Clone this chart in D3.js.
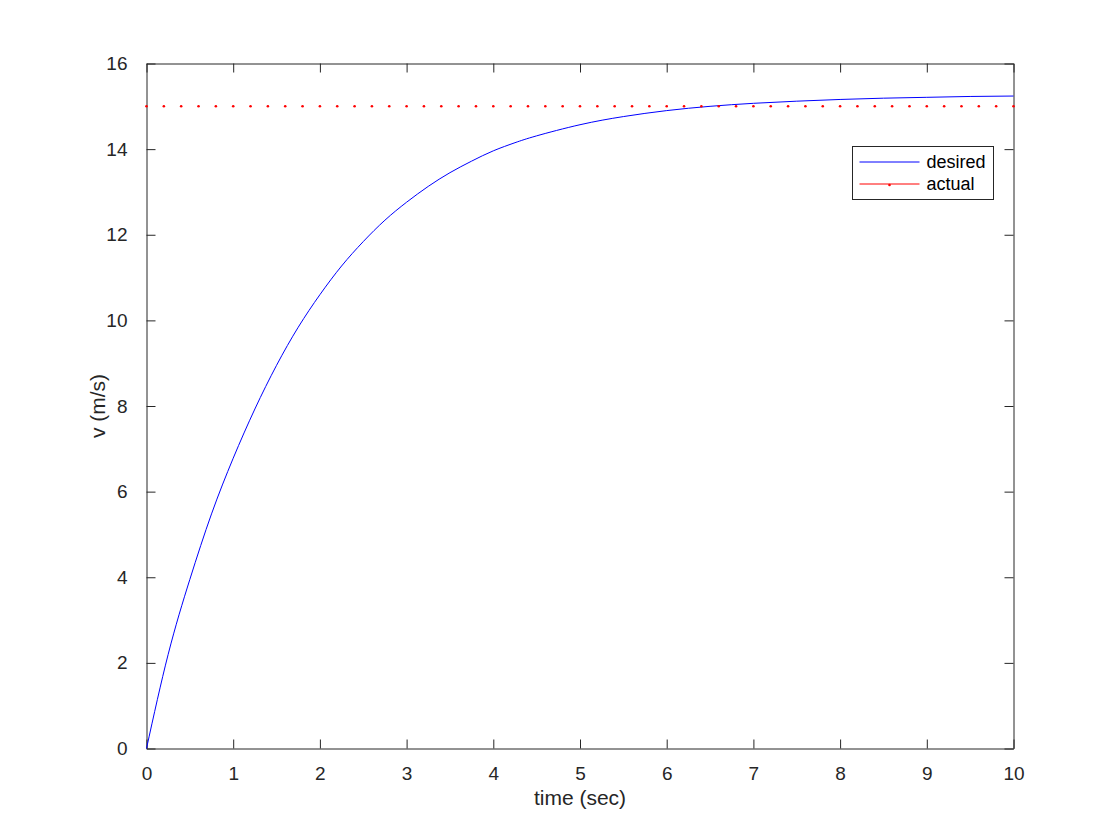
<!DOCTYPE html>
<html>
<head>
<meta charset="utf-8">
<script src="https://cdn.jsdelivr.net/npm/d3@7"></script>
<style>
  body { margin: 0; background: #fff; }
  svg { font-family: "Liberation Sans", Arial, Helvetica, sans-serif; }
</style>
</head>
<body>
<svg id="chart"></svg>
<script>
var width = 1120,
    height = 840;

// desired speed (blue curve)
var timeDesired = [0, 0.25, 0.5, 0.75, 1, 1.25, 1.5, 1.75, 2, 2.25, 2.5, 2.75, 3, 3.25, 3.5, 3.75, 4,
                   4.25, 4.5, 5, 5.5, 6, 6.5, 7, 7.5, 8, 8.5, 9, 9.5, 10];
var vDesired = [0, 2.2, 3.95, 5.48, 6.78, 7.93, 8.95, 9.84, 10.6, 11.27, 11.84, 12.34, 12.76, 13.13, 13.45, 13.72, 13.96,
                14.15, 14.31, 14.57, 14.76, 14.9, 15.0, 15.07, 15.12, 15.16, 15.19, 15.21, 15.23, 15.24];

// actual speed (red dots)
var timeActual = [0, 0.2, 0.4, 0.6, 0.8, 1, 1.2, 1.4, 1.6, 1.8, 2, 2.2, 2.4, 2.6, 2.8, 3, 3.2, 3.4, 3.6, 3.8,
                  4, 4.2, 4.4, 4.6, 4.8, 5, 5.2, 5.4, 5.6, 5.8, 6, 6.2, 6.4, 6.6, 6.8, 7, 7.2, 7.4, 7.6, 7.8,
                  8, 8.2, 8.4, 8.6, 8.8, 9, 9.2, 9.4, 9.6, 9.8, 10];
var vActual = [15, 15, 15, 15, 15, 15, 15, 15, 15, 15, 15, 15, 15, 15, 15, 15, 15, 15, 15, 15,
               15, 15, 15, 15, 15, 15, 15, 15, 15, 15, 15, 15, 15, 15, 15, 15, 15, 15, 15, 15,
               15, 15, 15, 15, 15, 15, 15, 15, 15, 15, 15];

var xTicks = [0, 1, 2, 3, 4, 5, 6, 7, 8, 9, 10];
var yTicks = [0, 2, 4, 6, 8, 10, 12, 14, 16];
var legendLabels = ["desired", "actual"];

var plotLeft = 146.5, plotRight = 1013.5, plotTop = 63.5, plotBottom = 748.5;
var axisColor = "#262626";

var svg = d3.select("#chart")
    .attr("width", width)
    .attr("height", height);

var x = d3.scaleLinear().domain([0, 10]).range([plotLeft, plotRight]);
var y = d3.scaleLinear().domain([0, 16]).range([plotBottom, plotTop]);

// axes, ticks pointing inward on all four sides
var gx = svg.append("g")
    .attr("transform", "translate(0," + plotBottom + ")")
    .call(d3.axisBottom(x).tickValues(xTicks).tickSizeInner(-9).tickSizeOuter(0).tickPadding(18));
var gxTop = svg.append("g")
    .attr("transform", "translate(0," + plotTop + ")")
    .call(d3.axisTop(x).tickValues(xTicks).tickSizeInner(-9).tickSizeOuter(0).tickFormat(""));
var gy = svg.append("g")
    .attr("transform", "translate(" + plotLeft + ",0)")
    .call(d3.axisLeft(y).tickValues(yTicks).tickSizeInner(-9).tickSizeOuter(0).tickPadding(19));
var gyRight = svg.append("g")
    .attr("transform", "translate(" + plotRight + ",0)")
    .call(d3.axisRight(y).tickValues(yTicks).tickSizeInner(-9).tickSizeOuter(0).tickFormat(""));

[gx, gxTop, gy, gyRight].forEach(function(g) {
    g.select(".domain").attr("stroke", axisColor);
    g.selectAll(".tick line").attr("stroke", axisColor);
    g.selectAll(".tick text")
        .attr("fill", axisColor)
        .style("font-size", "19px")
        .style("font-family", "'Liberation Sans', Arial, Helvetica, sans-serif");
});

// blue curve
var line = d3.line()
    .x(function(d, i) { return x(timeDesired[i]); })
    .y(function(d) { return y(d); })
    .curve(d3.curveNatural);

svg.append("path")
    .datum(vDesired)
    .attr("d", line)
    .attr("fill", "none")
    .attr("stroke", "#0000ff")
    .attr("stroke-width", 1);

// red dots
svg.selectAll("circle.actual")
    .data(vActual)
    .enter()
    .append("circle")
    .attr("class", "actual")
    .attr("cx", function(d, i) { return x(timeActual[i]); })
    .attr("cy", function(d) { return y(d); })
    .attr("r", 1.3)
    .attr("fill", "#ff0000");

// axis labels
svg.append("text")
    .attr("x", (plotLeft + plotRight) / 2)
    .attr("y", 805)
    .attr("text-anchor", "middle")
    .attr("fill", axisColor)
    .style("font-size", "21px")
    .text("time (sec)");

svg.append("text")
    .attr("transform", "translate(105," + (plotTop + plotBottom) / 2 + ") rotate(-90)")
    .attr("text-anchor", "middle")
    .attr("fill", axisColor)
    .style("font-size", "21px")
    .text("v (m/s)");

// legend
var legend = svg.append("g").attr("transform", "translate(852.5,146.5)");
legend.append("rect")
    .attr("width", 141)
    .attr("height", 53)
    .attr("fill", "#fff")
    .attr("stroke", axisColor)
    .attr("stroke-width", 1);

var legendColors = ["#0000ff", "#ff0000"];
legendLabels.forEach(function(lbl, i) {
    var ly = 15.5 + i * 22;
    legend.append("line")
        .attr("x1", 7).attr("x2", 67)
        .attr("y1", ly).attr("y2", ly)
        .attr("stroke", legendColors[i])
        .attr("stroke-width", 1);
    if (i == 1) {
        legend.append("circle")
            .attr("cx", 37).attr("cy", ly + 1)
            .attr("r", 1.3)
            .attr("fill", "#ff0000");
    }
    legend.append("text")
        .attr("x", 74)
        .attr("y", ly + 6)
        .attr("fill", "#000")
        .style("font-size", "18px")
        .text(lbl);
});
</script>
</body>
</html>
